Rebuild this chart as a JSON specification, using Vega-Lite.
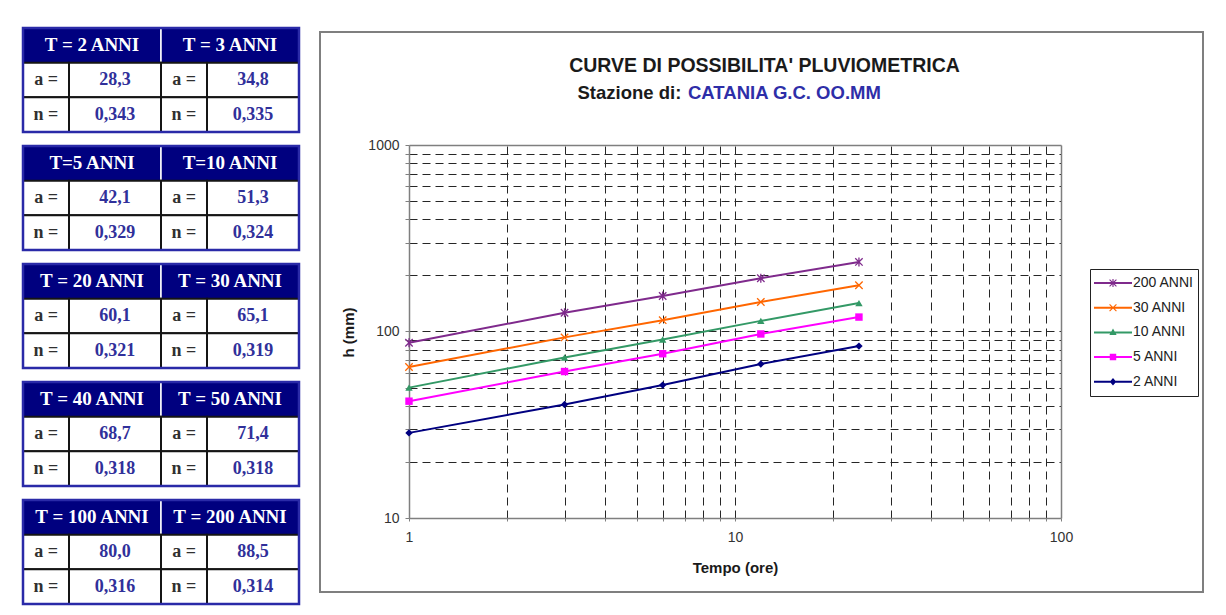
{
  "$schema": "https://vega.github.io/schema/vega-lite/v6.json",
  "background": "white",
  "padding": {"left": 21, "top": 26, "right": 0, "bottom": 0},
  "spacing": 18,
  "config": {
    "view": {"stroke": null},
    "font": "Liberation Sans",
    "axis": {"labelFont": "Liberation Sans", "titleFont": "Liberation Sans"}
  },
  "datasets": {
    "params": [
      {"tab": 1, "side": 0, "T": 2, "head": "T = 2 ANNI", "a": 28.3, "n": 0.343},
      {"tab": 1, "side": 1, "T": 3, "head": "T = 3 ANNI", "a": 34.8, "n": 0.335},
      {"tab": 2, "side": 0, "T": 5, "head": "T=5 ANNI", "a": 42.1, "n": 0.329},
      {"tab": 2, "side": 1, "T": 10, "head": "T=10 ANNI", "a": 51.3, "n": 0.324},
      {"tab": 3, "side": 0, "T": 20, "head": "T = 20 ANNI", "a": 60.1, "n": 0.321},
      {"tab": 3, "side": 1, "T": 30, "head": "T = 30 ANNI", "a": 65.1, "n": 0.319},
      {"tab": 4, "side": 0, "T": 40, "head": "T = 40 ANNI", "a": 68.7, "n": 0.318},
      {"tab": 4, "side": 1, "T": 50, "head": "T = 50 ANNI", "a": 71.4, "n": 0.318},
      {"tab": 5, "side": 0, "T": 100, "head": "T = 100 ANNI", "a": 80.0, "n": 0.316},
      {"tab": 5, "side": 1, "T": 200, "head": "T = 200 ANNI", "a": 88.5, "n": 0.314}
    ],
    "curve": [
      {"serie": "200 ANNI", "t": 1, "h": 87},
      {"serie": "200 ANNI", "t": 3, "h": 126},
      {"serie": "200 ANNI", "t": 6, "h": 155},
      {"serie": "200 ANNI", "t": 12, "h": 193},
      {"serie": "200 ANNI", "t": 24, "h": 236},
      {"serie": "30 ANNI", "t": 1, "h": 64.5},
      {"serie": "30 ANNI", "t": 3, "h": 93},
      {"serie": "30 ANNI", "t": 6, "h": 115},
      {"serie": "30 ANNI", "t": 12, "h": 144},
      {"serie": "30 ANNI", "t": 24, "h": 177},
      {"serie": "10 ANNI", "t": 1, "h": 50},
      {"serie": "10 ANNI", "t": 3, "h": 72.5},
      {"serie": "10 ANNI", "t": 6, "h": 90.5},
      {"serie": "10 ANNI", "t": 12, "h": 114},
      {"serie": "10 ANNI", "t": 24, "h": 142},
      {"serie": "5 ANNI", "t": 1, "h": 42.3},
      {"serie": "5 ANNI", "t": 3, "h": 61},
      {"serie": "5 ANNI", "t": 6, "h": 76},
      {"serie": "5 ANNI", "t": 12, "h": 97},
      {"serie": "5 ANNI", "t": 24, "h": 119.5},
      {"serie": "2 ANNI", "t": 1, "h": 28.6},
      {"serie": "2 ANNI", "t": 3, "h": 40.6},
      {"serie": "2 ANNI", "t": 6, "h": 51.6},
      {"serie": "2 ANNI", "t": 12, "h": 67},
      {"serie": "2 ANNI", "t": 24, "h": 83.5}
    ]
  },
  "hconcat": [
    {
      "data": {"name": "params"},
      "facet": {"row": {"field": "tab", "type": "ordinal", "title": null, "header": {"labels": false, "title": null, "labelPadding": 0, "titlePadding": 0}}},
      "spacing": {"row": 10},
      "spec": {
        "width": 276,
        "height": 104,
        "layer": [
          {
            "transform": [{"calculate": "datum.side*3", "as": "x0"}, {"calculate": "datum.side*3+3", "as": "x3"}],
            "mark": {"type": "rect", "fill": "#00007f", "stroke": "#ffffff", "strokeWidth": 1.5},
            "encoding": {
              "x": {"field": "x0", "type": "quantitative", "scale": {"domain": [0, 6], "nice": false, "zero": false}, "axis": null},
              "x2": {"field": "x3"},
              "y": {"datum": 0, "type": "quantitative", "scale": {"domain": [0, 3], "reverse": true, "nice": false, "zero": false}, "axis": null},
              "y2": {"datum": 1}
            }
          },
          {
            "transform": [
              {"fold": ["a", "n"]},
              {"calculate": "datum.key == 'a' ? 1 : 2", "as": "r0"},
              {"calculate": "datum.r0 + 1", "as": "r1"},
              {"calculate": "datum.side*3", "as": "x0"},
              {"calculate": "datum.side*3+1", "as": "x1"}
            ],
            "mark": {"type": "rect", "fill": "#ffffff", "stroke": "#151515", "strokeWidth": 2},
            "encoding": {
              "x": {"field": "x0", "type": "quantitative", "axis": null},
              "x2": {"field": "x1"},
              "y": {"field": "r0", "type": "quantitative", "axis": null},
              "y2": {"field": "r1"}
            }
          },
          {
            "transform": [
              {"fold": ["a", "n"]},
              {"calculate": "datum.key == 'a' ? 1 : 2", "as": "r0"},
              {"calculate": "datum.r0 + 1", "as": "r1"},
              {"calculate": "datum.side*3+1", "as": "x1"},
              {"calculate": "datum.side*3+3", "as": "x3"}
            ],
            "mark": {"type": "rect", "fill": "#ffffff", "stroke": "#151515", "strokeWidth": 2},
            "encoding": {
              "x": {"field": "x1", "type": "quantitative", "axis": null},
              "x2": {"field": "x3"},
              "y": {"field": "r0", "type": "quantitative", "axis": null},
              "y2": {"field": "r1"}
            }
          },
          {
            "transform": [{"filter": "datum.side == 0"}],
            "mark": {"type": "rect", "fill": "transparent", "stroke": "#2a2aa8", "strokeWidth": 2.5},
            "encoding": {
              "x": {"datum": 0, "type": "quantitative", "axis": null},
              "x2": {"datum": 6},
              "y": {"datum": 0, "type": "quantitative", "axis": null},
              "y2": {"datum": 3}
            }
          },
          {
            "transform": [{"calculate": "datum.side*3+1.5", "as": "xc"}],
            "mark": {"type": "text", "font": "Liberation Serif", "fontWeight": "bold", "fontSize": 19, "color": "#ffffff", "baseline": "middle", "align": "center"},
            "encoding": {
              "x": {"field": "xc", "type": "quantitative", "axis": null},
              "y": {"datum": 0.5, "type": "quantitative", "axis": null},
              "text": {"field": "head"}
            }
          },
          {
            "transform": [
              {"fold": ["a", "n"]},
              {"calculate": "datum.key == 'a' ? 1.5 : 2.5", "as": "rc"},
              {"calculate": "datum.side*3+0.5", "as": "xl"},
              {"calculate": "datum.key + ' ='", "as": "lab"}
            ],
            "mark": {"type": "text", "font": "Liberation Serif", "fontWeight": "bold", "fontSize": 18, "color": "#303030", "baseline": "middle", "align": "center"},
            "encoding": {
              "x": {"field": "xl", "type": "quantitative", "axis": null},
              "y": {"field": "rc", "type": "quantitative", "axis": null},
              "text": {"field": "lab"}
            }
          },
          {
            "transform": [
              {"fold": ["a", "n"]},
              {"calculate": "datum.key == 'a' ? 1.5 : 2.5", "as": "rc"},
              {"calculate": "datum.side*3+2", "as": "xv"},
              {"calculate": "replace(format(datum.value, datum.key == 'a' ? '.1f' : '.3f'), '.', ',')", "as": "txt"}
            ],
            "mark": {"type": "text", "font": "Liberation Serif", "fontWeight": "bold", "fontSize": 18, "color": "#30309a", "baseline": "middle", "align": "center"},
            "encoding": {
              "x": {"field": "xv", "type": "quantitative", "axis": null},
              "y": {"field": "rc", "type": "quantitative", "axis": null},
              "text": {"field": "txt"}
            }
          }
        ]
      }
    },
    {
      "spacing": 2,
      "vconcat": [
        {
          "width": 1,
          "height": 1,
          "data": {"values": []},
          "mark": "rect"
        },
        {
          "width": 883,
          "height": 560,
          "view": {"stroke": "#7f7f7f", "strokeWidth": 2},
          "data": {"name": "curve"},
          "title": {
            "text": "CATANIA G.C. OO.MM",
            "anchor": "start",
            "frame": "group",
            "orient": "top",
            "offset": -79,
            "dx": 368,
            "baseline": "middle",
            "font": "Liberation Sans",
            "fontSize": 18.5,
            "fontWeight": "bold",
            "color": "#2e2ea8"
          },
          "resolve": {"axis": {"x": "independent", "y": "independent"}},
          "layer": [
            {
              "mark": {"type": "line", "strokeWidth": 2},
              "encoding": {
                "x": {
                  "field": "t", "type": "quantitative",
                  "scale": {"type": "log", "domain": [1, 100], "range": [89, 741], "nice": false},
                  "axis": {
                    "orient": "bottom", "offset": -74,
                    "values": [1, 2, 3, 4, 5, 6, 7, 8, 9, 10, 20, 30, 40, 50, 60, 70, 80, 90, 100],
                    "format": "d",
                    "labelExpr": "indexof([1,10,100], datum.value) >= 0 ? datum.label : ''",
                    "labelFlush": false, "labelOverlap": false, "labelBound": false,
                    "grid": false,
                    "domain": true, "domainColor": "#7f7f7f", "domainWidth": 1.5,
                    "ticks": true, "tickSize": 3, "tickColor": "#7f7f7f",
                    "labelPadding": 9, "labelFontSize": 14, "labelColor": "#333333",
                    "title": "Tempo (ore)", "titleFontSize": 15, "titleFontWeight": "bold", "titleColor": "#1a1a1a",
                    "titleX": 415, "titleY": 49, "titleBaseline": "middle", "titleAlign": "center"
                  }
                },
                "y": {
                  "field": "h", "type": "quantitative",
                  "scale": {"type": "log", "domain": [10, 1000], "range": [486, 113], "nice": false},
                  "axis": {
                    "orient": "left", "offset": -89,
                    "values": [10, 20, 30, 40, 50, 60, 70, 80, 90, 100, 200, 300, 400, 500, 600, 700, 800, 900, 1000],
                    "format": "d",
                    "labelExpr": "indexof([10,100,1000], datum.value) >= 0 ? datum.label : ''",
                    "labelFlush": false, "labelOverlap": false, "labelBound": false,
                    "grid": true, "gridDash": [8, 5], "gridColor": "#262626", "gridWidth": 1,
                    "gridOpacity": {"condition": {"test": "datum.value == 10 || datum.value == 1000", "value": 0}, "value": 1},
                    "domain": true, "domainColor": "#7f7f7f", "domainWidth": 1.5,
                    "ticks": true, "tickSize": 4, "tickColor": "#7f7f7f",
                    "labelPadding": 6, "labelFontSize": 14, "labelColor": "#333333",
                    "title": "h (mm)", "titleFontSize": 15, "titleFontWeight": "bold", "titleColor": "#1a1a1a",
                    "titleX": -61, "titleY": 300, "titleAngle": -90, "titleBaseline": "middle", "titleAlign": "center"
                  }
                },
                "color": {
                  "field": "serie", "type": "nominal",
                  "scale": {"domain": ["2 ANNI", "5 ANNI", "10 ANNI", "30 ANNI", "200 ANNI"], "range": ["#000080", "#ff00ff", "#339966", "#ff6600", "#7f2a8c"]},
                  "legend": null
                }
              }
            },
            {
              "transform": [{"filter": "datum.serie == '200 ANNI'"}],
              "mark": {"type": "point", "shape": "M-1,-1L1,1M-1,1L1,-1M0,-1.2L0,1.2", "filled": false, "size": 55, "strokeWidth": 1.3, "opacity": 1},
              "encoding": {
                "x": {
                  "field": "t", "type": "quantitative",
                  "scale": {"type": "log", "domain": [1, 100], "range": [89, 741], "nice": false},
                  "axis": {
                    "orient": "top", "offset": -113,
                    "values": [2, 3, 4, 5, 6, 7, 8, 9, 10, 20, 30, 40, 50, 60, 70, 80, 90],
                    "labels": false, "ticks": false,
                    "domain": true, "domainColor": "#7f7f7f", "domainWidth": 1.5,
                    "grid": true, "gridDash": [8, 5], "gridColor": "#262626", "gridWidth": 1,
                    "title": "CURVE DI POSSIBILITA' PLUVIOMETRICA",
                    "titleFontSize": 19.5, "titleFontWeight": "bold", "titleColor": "#1a1a1a",
                    "titleX": 444, "titleY": -80, "titleAlign": "center", "titleBaseline": "middle", "titleAngle": 0
                  }
                },
                "y": {
                  "field": "h", "type": "quantitative",
                  "scale": {"type": "log", "domain": [10, 1000], "range": [486, 113], "nice": false},
                  "axis": {
                    "orient": "right", "offset": -142,
                    "values": [100],
                    "labels": false, "ticks": false, "grid": false,
                    "domain": true, "domainColor": "#7f7f7f", "domainWidth": 1.5,
                    "title": "Stazione di:",
                    "titleFontSize": 18.5, "titleFontWeight": "bold", "titleColor": "#1a1a1a",
                    "titleX": -484, "titleY": 60, "titleAlign": "left", "titleBaseline": "middle", "titleAngle": 0
                  }
                },
                "color": {"field": "serie", "type": "nominal", "legend": null}
              }
            },
            {
              "transform": [{"filter": "datum.serie == '30 ANNI'"}],
              "mark": {"type": "point", "shape": "M-1,-1L1,1M-1,1L1,-1", "filled": false, "size": 55, "strokeWidth": 1.3, "opacity": 1},
              "encoding": {
                "x": {"field": "t", "type": "quantitative", "axis": null},
                "y": {"field": "h", "type": "quantitative", "axis": null},
                "color": {"field": "serie", "type": "nominal", "legend": null}
              }
            },
            {
              "transform": [{"filter": "datum.serie == '10 ANNI'"}],
              "mark": {"type": "point", "shape": "triangle-up", "filled": true, "size": 55, "opacity": 1},
              "encoding": {
                "x": {"field": "t", "type": "quantitative", "axis": null},
                "y": {"field": "h", "type": "quantitative", "axis": null},
                "color": {"field": "serie", "type": "nominal", "legend": null}
              }
            },
            {
              "transform": [{"filter": "datum.serie == '5 ANNI'"}],
              "mark": {"type": "point", "shape": "square", "filled": true, "size": 55, "opacity": 1},
              "encoding": {
                "x": {"field": "t", "type": "quantitative", "axis": null},
                "y": {"field": "h", "type": "quantitative", "axis": null},
                "color": {"field": "serie", "type": "nominal", "legend": null}
              }
            },
            {
              "transform": [{"filter": "datum.serie == '2 ANNI'"}],
              "mark": {"type": "point", "shape": "diamond", "filled": true, "size": 55, "opacity": 1},
              "encoding": {
                "x": {"field": "t", "type": "quantitative", "axis": null},
                "y": {"field": "h", "type": "quantitative", "axis": null},
                "color": {"field": "serie", "type": "nominal", "legend": null}
              }
            },
            {
              "transform": [{"filter": "false"}],
              "mark": {"type": "point", "filled": true, "size": 1444, "opacity": 1, "strokeWidth": 0},
              "encoding": {
                "fill": {
                  "field": "serie", "type": "nominal",
                  "scale": {"domain": ["200 ANNI", "30 ANNI", "10 ANNI", "5 ANNI", "2 ANNI"], "range": ["#7f2a8c", "#ff6600", "#339966", "#ff00ff", "#000080"]},
                  "legend": {
                    "orient": "none", "legendX": 1067, "legendY": 241, "title": null,
                    "strokeColor": "#222222", "padding": 4, "symbolSize": 1444, "clipHeight": 20, "rowPadding": 4.7,
                    "labelFont": "Liberation Sans", "labelFontSize": 14, "labelColor": "#222222", "labelOffset": 1,
                    "symbolStrokeWidth": 0, "symbolOpacity": 1
                  }
                },
                "shape": {
                  "field": "serie", "type": "nominal",
                  "scale": {
                    "domain": ["200 ANNI", "30 ANNI", "10 ANNI", "5 ANNI", "2 ANNI"],
                    "range": [
                      "M-1,-0.053L1,-0.053L1,0.053L-1,0.053Z M-0.201,-0.159L-0.159,-0.201L0.201,0.159L0.159,0.201Z M0.159,-0.201L0.201,-0.159L-0.159,0.201L-0.201,0.159Z M-0.03,-0.21L0.03,-0.21L0.03,0.21L-0.03,0.21Z",
                      "M-1,-0.053L1,-0.053L1,0.053L-1,0.053Z M-0.201,-0.159L-0.159,-0.201L0.201,0.159L0.159,0.201Z M0.159,-0.201L0.201,-0.159L-0.159,0.201L-0.201,0.159Z",
                      "M-1,-0.053L1,-0.053L1,0.053L-1,0.053Z M0,-0.2L0.19,0.14L-0.19,0.14Z",
                      "M-1,-0.053L1,-0.053L1,0.053L-1,0.053Z M-0.17,-0.17L0.17,-0.17L0.17,0.17L-0.17,0.17Z",
                      "M-1,-0.053L1,-0.053L1,0.053L-1,0.053Z M0,-0.2L0.17,0L0,0.2L-0.17,0Z"
                    ]
                  },
                  "legend": {
                    "orient": "none", "legendX": 1067, "legendY": 241, "title": null,
                    "strokeColor": "#222222", "padding": 4, "symbolSize": 1444, "clipHeight": 20, "rowPadding": 4.7,
                    "labelFont": "Liberation Sans", "labelFontSize": 14, "labelColor": "#222222", "labelOffset": 1,
                    "symbolStrokeWidth": 0, "symbolOpacity": 1
                  }
                }
              }
            }
          ]
        }
      ]
    }
  ]
}
